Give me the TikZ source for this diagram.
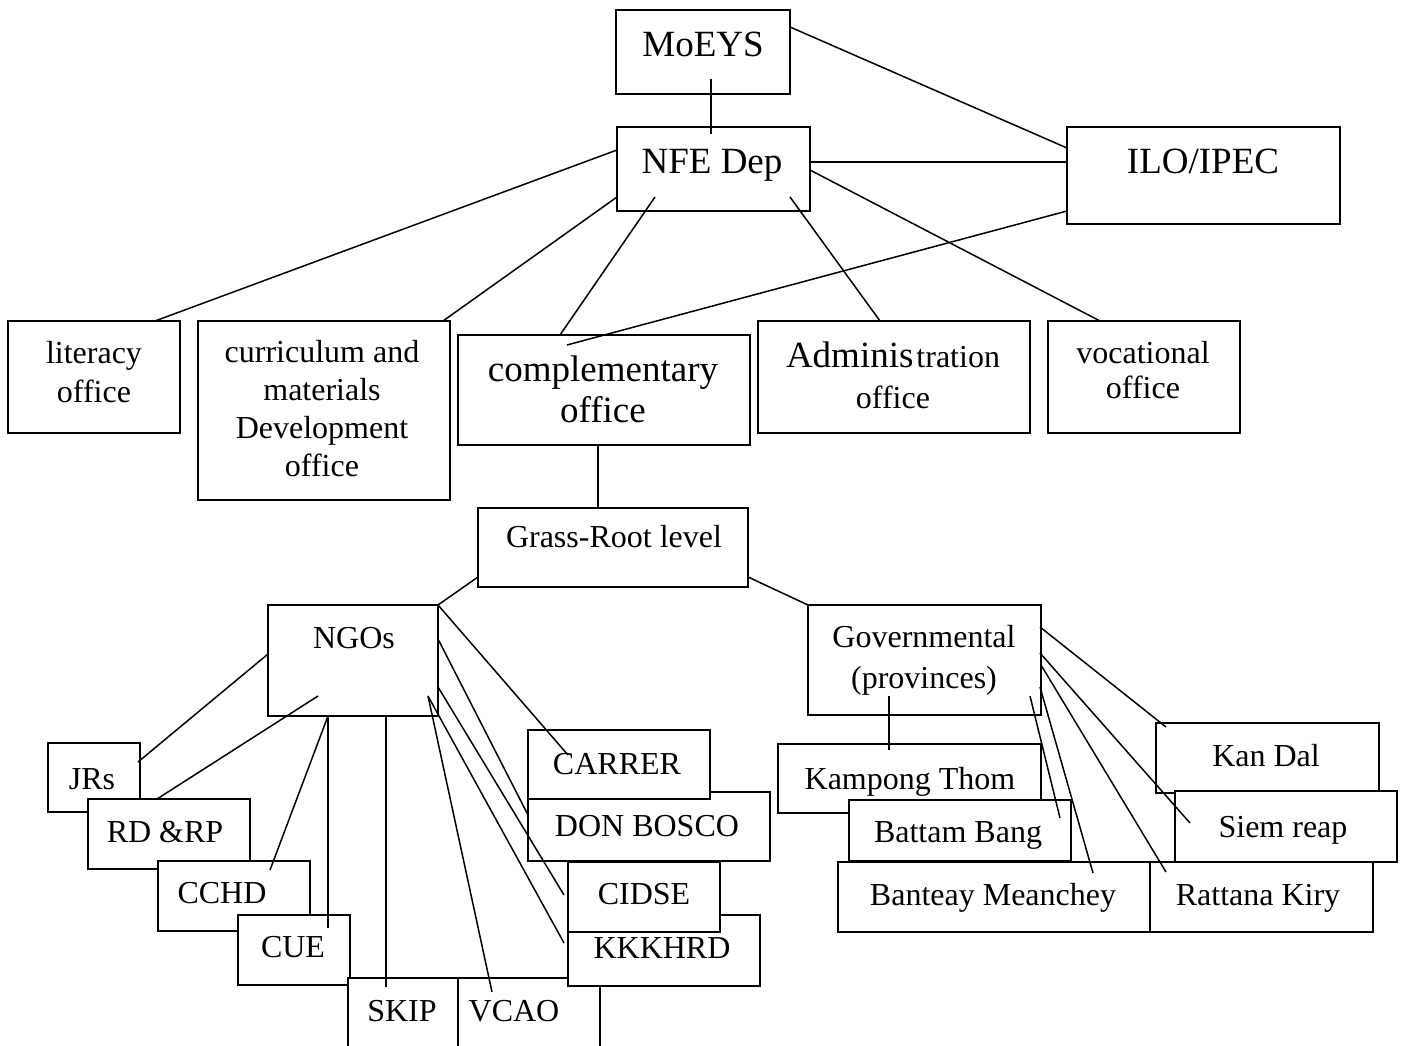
\documentclass[tikz,border=0pt]{standalone}
\usepackage{fontspec}
\setmainfont{Liberation Serif}
\usetikzlibrary{calc}
\newcommand{\bigtxt}{\fontsize{37}{41}\selectfont}
\newcommand{\smtxt}{\fontsize{32}{38.5}\selectfont}
\newcommand{\bx}[5]{\node[box, minimum width={#4-#2}, minimum height={#5-#3}] (#1) at (#2,#3) {};}
\begin{document}
\begin{tikzpicture}[x=1pt,y=-1pt,
  box/.style={draw, line width=1.7pt, fill=white, inner sep=0pt, outer sep=0pt, anchor=north west},
  lbl/.style={anchor=base, align=center, inner sep=0pt, font=\smtxt},
  blbl/.style={lbl, font=\bigtxt},
  conn/.style={line width=1.5pt}]
\clip (0,0) rectangle (1401,1046);
\fill[white] (0,0) rectangle (1401,1046);
% top level boxes
\bx{moeys}{616}{10}{790}{94}
\bx{nfe}{617}{127}{810}{211}
\bx{ilo}{1067}{127}{1340}{224}
\bx{lit}{8}{321}{180}{433}
\bx{cur}{198}{321}{450}{500}
\bx{comp}{458}{335}{750}{445}
\bx{adm}{758}{321}{1030}{433}
\bx{voc}{1048}{321}{1240}{433}
\bx{grass}{478}{508}{748}{587}
\bx{ngo}{268}{605}{438}{716}
\bx{gov}{808}{605}{1041}{715}
% NGO cluster
\bx{jrs}{48}{743}{140}{812}
\bx{rdrp}{88}{799}{250}{869}
\bx{cchd}{158}{861}{310}{931}
\bx{cue}{238}{915}{350}{985}
\bx{skip}{348}{978}{458}{1070}
\bx{vcao}{458}{978}{600}{1070}
\bx{donb}{528}{792}{770}{861}
\bx{carrer}{528}{730}{710}{799}
\bx{kkk}{568}{915}{760}{986}
\bx{cidse}{568}{862}{720}{932}
% province cluster
\bx{kt}{778}{744}{1041}{813}
\bx{bb}{849}{800}{1071}{861}
\bx{banm}{838}{862}{1150}{932}
\bx{rat}{1150}{862}{1373}{932}
\bx{kan}{1156}{723}{1379}{793}
\bx{siem}{1175}{791}{1397}{862}
% labels (multi-line labels: base = baseline of last line)
\node[blbl] (tmoeys) at (703,57) {MoEYS};
\node[blbl] (tnfe) at (712,174) {NFE Dep};
\node[blbl] (tilo) at (1203,174) {ILO/IPEC};
\node[lbl] (tlit) at (94,402) {literacy\\office};
\node[lbl, font=\fontsize{32}{37.7}\selectfont] (tcur) at (322,476) {curriculum and\\materials\\Development\\office};
\node[blbl] (tcomp) at (603,422) {complementary\\office};
\node[lbl, font=\fontsize{32}{41}\selectfont] (tadm) at (893,408) {{\bigtxt Adminis}\hspace{3pt}tration\\office};
\node[lbl, font=\fontsize{32}{35}\selectfont] (tvoc) at (1143,398) {vocational\\office};
\node[lbl] (tgrass) at (614,547) {Grass-Root level};
\node[lbl] (tngo) at (354,648) {NGOs};
\node[lbl, font=\fontsize{32}{41}\selectfont] (tgov) at (924,688) {Governmental\\(provinces)};
\node[lbl] (tjrs) at (92,789) {JRs};
\node[lbl] (trdrp) at (165,842) {RD \&RP};
\node[lbl] (tcchd) at (222,903) {CCHD};
\node[lbl] (tcue) at (293,957) {CUE};
\node[lbl] (tskip) at (402,1021) {SKIP};
\node[lbl] (tvcao) at (514,1021) {VCAO};
\node[lbl] (tcarrer) at (617,774) {CARRER};
\node[lbl] (tdonb) at (647,836) {DON BOSCO};
\node[lbl] (tcidse) at (644,904) {CIDSE};
\node[lbl] (tkkk) at (662,958) {KKKHRD};
\node[lbl] (tkt) at (910,789) {Kampong Thom};
\node[lbl] (tbb) at (958,842) {Battam Bang};
\node[lbl] (tbanm) at (993,905) {Banteay Meanchey};
\node[lbl] (trat) at (1258,905) {Rattana Kiry};
\node[lbl] (tkan) at (1266,766) {Kan Dal};
\node[lbl] (tsiem) at (1283,837) {Siem reap};
% connectors
\draw[conn] ($(moeys.north west)+(95,69)$) -- ($(nfe.north west)+(94,7)$);
\draw[conn] ($(moeys.north west)+(174,17)$) -- ($(ilo.north west)+(0,21)$);
\draw[conn] ($(nfe.north west)+(193,35)$) -- ($(ilo.north west)+(0,35)$);
\draw[conn] ($(nfe.north west)+(0,23)$) -- ($(lit.north west)+(147,0)$);
\draw[conn] ($(nfe.north west)+(0,70)$) -- ($(cur.north west)+(245,0)$);
\draw[conn] ($(nfe.north west)+(38,70)$) -- ($(comp.north west)+(102,0)$);
\draw[conn] ($(nfe.north west)+(173,70)$) -- ($(adm.north west)+(122,0)$);
\draw[conn] ($(nfe.north west)+(193,43)$) -- ($(voc.north west)+(52,0)$);
\draw[conn] ($(ilo.north west)+(0,84)$) -- ($(comp.north west)+(109,10)$);
\draw[conn] ($(comp.north west)+(140,110)$) -- ($(grass.north west)+(120,0)$);
\draw[conn] ($(grass.north west)+(0,69)$) -- (ngo.north east);
\draw[conn] ($(grass.north west)+(270,69)$) -- (gov.north west);
\draw[conn] ($(ngo.north west)+(0,49)$) -- ($(jrs.north west)+(90,19)$);
\draw[conn] ($(ngo.north west)+(50,91)$) -- ($(rdrp.north west)+(69,0)$);
\draw[conn] ($(ngo.north west)+(60,111)$) -- ($(cchd.north west)+(112,9)$);
\draw[conn] ($(ngo.north west)+(60,111)$) -- ($(cue.north west)+(90,13)$);
\draw[conn] ($(ngo.north west)+(118,111)$) -- ($(skip.north west)+(38,9)$);
\draw[conn] ($(ngo.north west)+(160,91)$) -- ($(vcao.north west)+(34,14)$);
\draw[conn] ($(ngo.north west)+(160,91)$) -- ($(kkk.north west)+(-4,28)$);
\draw[conn] ($(ngo.north west)+(170,82)$) -- ($(cidse.north west)+(-4,33)$);
\draw[conn] ($(ngo.north west)+(170,34)$) -- ($(donb.north west)+(0,23)$);
\draw[conn] (ngo.north east) -- ($(carrer.north west)+(40,25)$);
\draw[conn] ($(gov.north west)+(81,91)$) -- ($(kt.north west)+(111,6)$);
\draw[conn] ($(gov.north west)+(222,91)$) -- ($(bb.north west)+(211,18)$);
\draw[conn] ($(gov.north west)+(232,82)$) -- ($(banm.north west)+(255,11)$);
\draw[conn] ($(gov.north west)+(233,60)$) -- ($(rat.north west)+(16,10)$);
\draw[conn] ($(gov.north west)+(232,48)$) -- ($(siem.north west)+(15,32)$);
\draw[conn] ($(gov.north west)+(232,22)$) -- ($(kan.north west)+(10,4)$);
\end{tikzpicture}
\end{document}
